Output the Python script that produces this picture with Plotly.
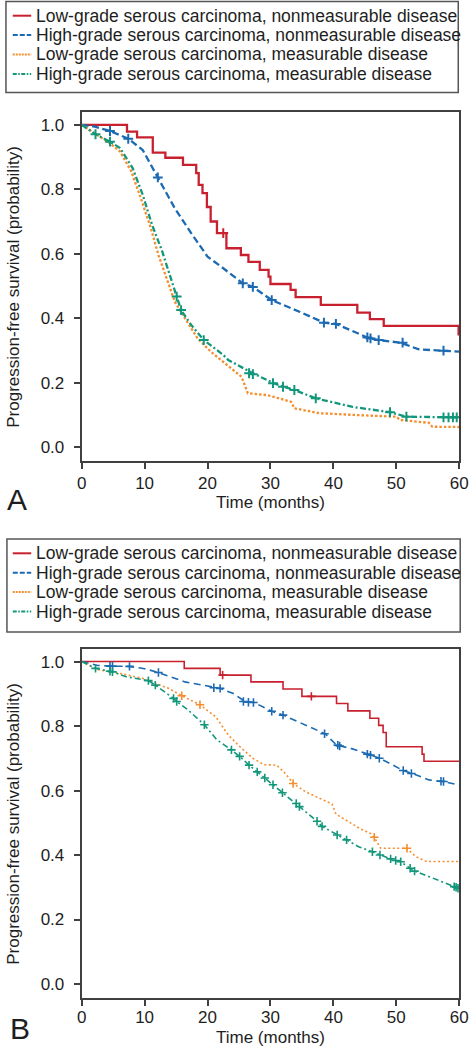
import plotly.graph_objects as go

FONT = "Liberation Sans, Arial, Helvetica, sans-serif"
W, H = 476, 1050

series_names = [
    "Low-grade serous carcinoma, nonmeasurable disease",
    "High-grade serous carcinoma, nonmeasurable disease",
    "Low-grade serous carcinoma, measurable disease",
    "High-grade serous carcinoma, measurable disease",
]
colors = ["#C8202F", "#1C6AB1", "#F58E2E", "#12977A"]
x_ticks = [0, 10, 20, 30, 40, 50, 60]
y_ticks = [0.0, 0.2, 0.4, 0.6, 0.8, 1.0]
x_title = "Time (months)"
y_title = "Progression-free survival (probability)"
panel_labels = ["A", "B"]

# ---------------- Panel A ----------------
a_red_t = [0, 7.2, 8.8, 11.3, 13.3, 16.1, 18.2, 18.6, 19.2, 19.9, 20.5, 21.5, 23.0, 25.3, 26.5, 28.3, 29.7, 30.0, 33.2, 34.0, 38.0, 43.8, 45.8, 48.0, 59.9, 60]
a_red_s = [1.0, 0.979, 0.961, 0.914, 0.898, 0.876, 0.85, 0.814, 0.788, 0.745, 0.70, 0.664, 0.617, 0.596, 0.575, 0.55, 0.529, 0.506, 0.488, 0.465, 0.441, 0.417, 0.397, 0.376, 0.35, 0.35]
a_red_ct = [22.5]
a_red_cs = [0.664]

a_blue_t = [0, 2.0, 4.5, 7.4, 9.7, 12.1, 14.8, 17.4, 20.0, 22.5, 25.6, 27.2, 30.2, 34.6, 38.5, 40.4, 45.4, 47.2, 50.6, 53.6, 57.5, 60]
a_blue_s = [1.0, 0.995, 0.981, 0.957, 0.922, 0.837, 0.741, 0.664, 0.591, 0.555, 0.508, 0.497, 0.456, 0.42, 0.386, 0.382, 0.34, 0.332, 0.324, 0.303, 0.299, 0.296]
a_blue_ct = [4.5, 7.4, 12.1, 25.6, 27.2, 30.2, 38.5, 40.4, 45.4, 45.9, 47.2, 51.0, 57.5]
a_blue_cs = [0.981, 0.957, 0.837, 0.508, 0.497, 0.456, 0.386, 0.382, 0.34, 0.337, 0.332, 0.324, 0.299]

a_orange_t = [0, 2.0, 4.5, 6.1, 7.9, 9.4, 11.0, 12.2, 13.5, 14.8, 16.4, 18.4, 20.5, 23.3, 25.4, 26.4, 29.5, 32.6, 33.3, 33.8, 37.7, 43.9, 50.0, 50.6, 53.1, 55.2, 55.7, 60]
a_orange_s = [1.0, 0.975, 0.943, 0.917, 0.855, 0.772, 0.679, 0.596, 0.524, 0.451, 0.40, 0.338, 0.296, 0.252, 0.218, 0.167, 0.161, 0.144, 0.14, 0.12, 0.105, 0.099, 0.094, 0.084, 0.079, 0.075, 0.063, 0.062]

a_green_t = [0, 2.2, 4.5, 6.1, 8.1, 9.7, 11.2, 12.8, 15.1, 15.8, 17.4, 19.4, 22.5, 23.3, 26.9, 30.5, 32.1, 33.8, 37.2, 42.9, 49.0, 51.6, 60]
a_green_s = [1.0, 0.971, 0.948, 0.928, 0.866, 0.783, 0.689, 0.607, 0.467, 0.425, 0.379, 0.332, 0.286, 0.27, 0.232, 0.198, 0.187, 0.177, 0.151, 0.125, 0.108, 0.094, 0.092]
a_green_ct = [2.2, 4.5, 15.1, 15.8, 19.4, 26.6, 27.2, 30.4, 32.0, 33.8, 37.2, 49.0, 51.6, 57.5, 58.3, 59.0, 59.6]
a_green_cs = [0.971, 0.948, 0.467, 0.425, 0.332, 0.229, 0.226, 0.198, 0.187, 0.177, 0.151, 0.108, 0.094, 0.092, 0.092, 0.092, 0.092]

# ---------------- Panel B ----------------
b_red_t = [0, 16.3, 22.0, 26.9, 32.0, 35.0, 40.5, 42.3, 45.8, 47.2, 47.9, 48.4, 54.1, 54.4, 60]
b_red_s = [1.0, 0.979, 0.958, 0.937, 0.915, 0.892, 0.87, 0.847, 0.824, 0.802, 0.78, 0.736, 0.713, 0.691, 0.691]
b_red_ct = [22.4, 36.5]
b_red_cs = [0.958, 0.892]

b_blue_t = [0, 2.5, 4.5, 7.6, 10.0, 12.2, 16.4, 21.0, 22.0, 24.1, 25.9, 27.4, 30.2, 32.0, 35.6, 38.7, 40.5, 42.9, 45.5, 47.4, 51.1, 52.5, 55.2, 57.5, 60]
b_blue_s = [1.0, 0.988, 0.986, 0.985, 0.978, 0.966, 0.937, 0.919, 0.917, 0.901, 0.877, 0.873, 0.846, 0.834, 0.803, 0.776, 0.741, 0.73, 0.713, 0.70, 0.662, 0.653, 0.633, 0.628, 0.617]
b_blue_ct = [4.5, 4.9, 7.6, 12.2, 21.0, 22.0, 25.7, 26.5, 27.3, 30.2, 32.0, 38.6, 40.7, 41.0, 45.4, 45.9, 47.3, 51.1, 52.4, 57.1, 57.5]
b_blue_cs = [0.986, 0.986, 0.985, 0.966, 0.919, 0.917, 0.876, 0.874, 0.873, 0.846, 0.834, 0.776, 0.741, 0.738, 0.713, 0.710, 0.70, 0.662, 0.653, 0.629, 0.628]

b_orange_t = [0, 2.5, 6.1, 9.7, 13.8, 15.9, 18.8, 21.3, 23.3, 25.4, 27.2, 29.0, 31.0, 32.4, 33.6, 35.6, 39.8, 40.4, 44.4, 45.9, 46.5, 47.5, 51.6, 53.1, 54.8, 60]
b_orange_s = [1.0, 0.975, 0.963, 0.948, 0.917, 0.894, 0.866, 0.829, 0.772, 0.731, 0.70, 0.68, 0.679, 0.652, 0.622, 0.596, 0.558, 0.527, 0.48, 0.467, 0.455, 0.421, 0.421, 0.395, 0.38, 0.38]
b_orange_ct = [15.9, 18.8, 33.6, 46.5, 51.7]
b_orange_cs = [0.894, 0.866, 0.622, 0.455, 0.421]

b_green_t = [0, 2.2, 4.5, 4.9, 7.1, 10.6, 11.7, 14.6, 15.1, 16.9, 19.5, 21.5, 23.8, 25.1, 26.6, 27.9, 29.1, 30.4, 31.9, 34.1, 34.6, 37.4, 38.2, 40.6, 42.1, 44.0, 46.2, 47.4, 49.1, 49.9, 50.7, 52.2, 52.9, 55.2, 59.2, 59.8, 60]
b_green_s = [1.0, 0.979, 0.97, 0.968, 0.953, 0.941, 0.927, 0.886, 0.876, 0.85, 0.804, 0.757, 0.726, 0.706, 0.679, 0.658, 0.639, 0.618, 0.593, 0.56, 0.55, 0.505, 0.489, 0.462, 0.447, 0.426, 0.41, 0.40, 0.388, 0.383, 0.379, 0.359, 0.35, 0.333, 0.302, 0.297, 0.296]
b_green_ct = [2.2, 4.5, 4.9, 10.6, 11.7, 14.6, 15.1, 19.5, 23.8, 25.1, 26.6, 27.9, 29.1, 30.4, 31.9, 34.1, 34.6, 37.4, 38.2, 40.6, 42.1, 46.2, 47.4, 49.1, 49.9, 50.7, 52.2, 52.9, 59.2, 59.5, 59.8]
b_green_cs = [0.979, 0.97, 0.968, 0.941, 0.927, 0.886, 0.876, 0.804, 0.726, 0.706, 0.679, 0.658, 0.639, 0.618, 0.593, 0.56, 0.55, 0.505, 0.489, 0.462, 0.447, 0.41, 0.40, 0.388, 0.383, 0.379, 0.359, 0.35, 0.302, 0.3, 0.297]


def px(x):
    return x / W


def py(y):
    return 1 - y / H


fig = go.Figure()

panels = [
    dict(xa="x", ya="y", lw=2.3, msize=7, mlw=2.0,
         dashes=["solid", "7px,3.5px", "2.5px,2px", "6px,2.5px,2px,2.5px"],
         curves=[(a_red_t, a_red_s, "hv"), (a_blue_t, a_blue_s, "linear"),
                 (a_orange_t, a_orange_s, "linear"), (a_green_t, a_green_s, "linear")],
         cens=[(a_red_ct, a_red_cs), (a_blue_ct, a_blue_cs), ([], []), (a_green_ct, a_green_cs)]),
    dict(xa="x2", ya="y2", lw=1.6, msize=6, mlw=1.6,
         dashes=["solid", "7px,4.5px", "2px,2.5px", "6px,3px,2px,3px"],
         curves=[(b_red_t, b_red_s, "hv"), (b_blue_t, b_blue_s, "linear"),
                 (b_orange_t, b_orange_s, "linear"), (b_green_t, b_green_s, "linear")],
         cens=[(b_red_ct, b_red_cs), (b_blue_ct, b_blue_cs), (b_orange_ct, b_orange_cs), (b_green_ct, b_green_cs)]),
]

for p in panels:
    for i in range(4):
        t, s, shape = p["curves"][i]
        fig.add_trace(go.Scatter(
            x=t, y=s, mode="lines", name=series_names[i], showlegend=False,
            line=dict(color=colors[i], width=p["lw"], dash=p["dashes"][i], shape=shape),
            xaxis=p["xa"], yaxis=p["ya"], hoverinfo="skip"))
    for i in range(4):
        ct, cs = p["cens"][i]
        if ct:
            fig.add_trace(go.Scatter(
                x=ct, y=cs, mode="markers", name=series_names[i] + " (censored)",
                showlegend=False,
                marker=dict(symbol="cross-thin", size=p["msize"], color=colors[i],
                            line=dict(color=colors[i], width=p["mlw"])),
                xaxis=p["xa"], yaxis=p["ya"], hoverinfo="skip"))

axis_color = "#404040"
common_x = dict(range=[0, 60], tickvals=x_ticks, ticks="outside", ticklen=6, tickwidth=1.8,
                tickcolor=axis_color, showline=True, linecolor=axis_color, linewidth=2,
                mirror=True, showgrid=False, zeroline=False, ticklabeloverflow="allow",
                tickfont=dict(family=FONT, size=17, color="#1e1e1e"),
                domain=[px(79), px(468)])
common_y = dict(tickvals=y_ticks, tickformat=".1f", ticks="outside", ticklen=6, tickwidth=1.8,
                tickcolor=axis_color, showline=True, linecolor=axis_color, linewidth=2,
                mirror=True, showgrid=False, zeroline=False, ticklabelstandoff=6,
                ticklabeloverflow="allow",
                tickfont=dict(family=FONT, size=17, color="#1e1e1e"))

fig.update_layout(
    width=W, height=H, margin=dict(l=0, r=0, t=0, b=0),
    paper_bgcolor="white", plot_bgcolor="white", showlegend=False,
    font=dict(family=FONT, size=17, color="#1e1e1e"),
    xaxis=dict(anchor="y", **common_x),
    yaxis=dict(anchor="x", domain=[py(461), py(112)], range=[-0.0435, 1.040], **common_y),
    xaxis2=dict(anchor="y2", ticklabelstandoff=-3, **common_x),
    yaxis2=dict(anchor="x2", domain=[py(998), py(649)], range=[-0.0434, 1.039], **common_y),
)

# Legends (one box per panel), axis titles, panel letters
legend_boxes = [(1, 1.5, 467, 92.5, 15.7), (2, 539, 469, 632, 553.3)]
legend_dashes = ["solid", "5px,2px", "2px,1px", "4px,1.5px,1.5px,1.5px"]
row_gap = 19.4
shapes = []
annotations = []
for k, (x0, y0, x1, y1, first_row) in enumerate(legend_boxes):
    shapes.append(dict(type="rect", xref="paper", yref="paper",
                       x0=px(x0), x1=px(x1), y0=py(y1), y1=py(y0),
                       line=dict(color="#555555", width=1.5), fillcolor="white", layer="below"))
    for i in range(4):
        yr = first_row + i * row_gap
        shapes.append(dict(type="line", xref="paper", yref="paper",
                           x0=px(8), x1=px(27), y0=py(yr), y1=py(yr),
                           line=dict(color=colors[i], width=2, dash=legend_dashes[i])))
        annotations.append(dict(text=series_names[i], xref="paper", yref="paper",
                                x=px(30), y=py(yr), xanchor="left", yanchor="middle",
                                showarrow=False, font=dict(family=FONT, size=17.5, color="#1e1e1e")))

plot_boxes = [(112, 461), (649, 998)]
xtitle_y = [502, 1037]
letter_pos = [(0, 499), (3, 1028)]
for k, (top, bottom) in enumerate(plot_boxes):
    annotations.append(dict(text=y_title, xref="paper", yref="paper", x=px(8.5),
                            y=py((top + bottom) / 2), xanchor="center", yanchor="middle",
                            textangle=-90, showarrow=False,
                            font=dict(family=FONT, size=17, color="#1e1e1e")))
    annotations.append(dict(text=x_title, xref="paper", yref="paper", x=px(273.5),
                            y=py(xtitle_y[k]), xanchor="center", yanchor="middle",
                            showarrow=False, font=dict(family=FONT, size=17, color="#1e1e1e")))
    annotations.append(dict(text=panel_labels[k], xref="paper", yref="paper",
                            x=px(letter_pos[k][0]), y=py(letter_pos[k][1]),
                            xanchor="left", yanchor="middle", showarrow=False,
                            font=dict(family=FONT, size=30, color="#1e1e1e")))

fig.update_layout(shapes=shapes, annotations=annotations)
fig.write_html(
    "out.html",
    config={"displayModeBar": False},
    post_script="document.body.style.margin='0';document.body.style.overflow='hidden';",
)
